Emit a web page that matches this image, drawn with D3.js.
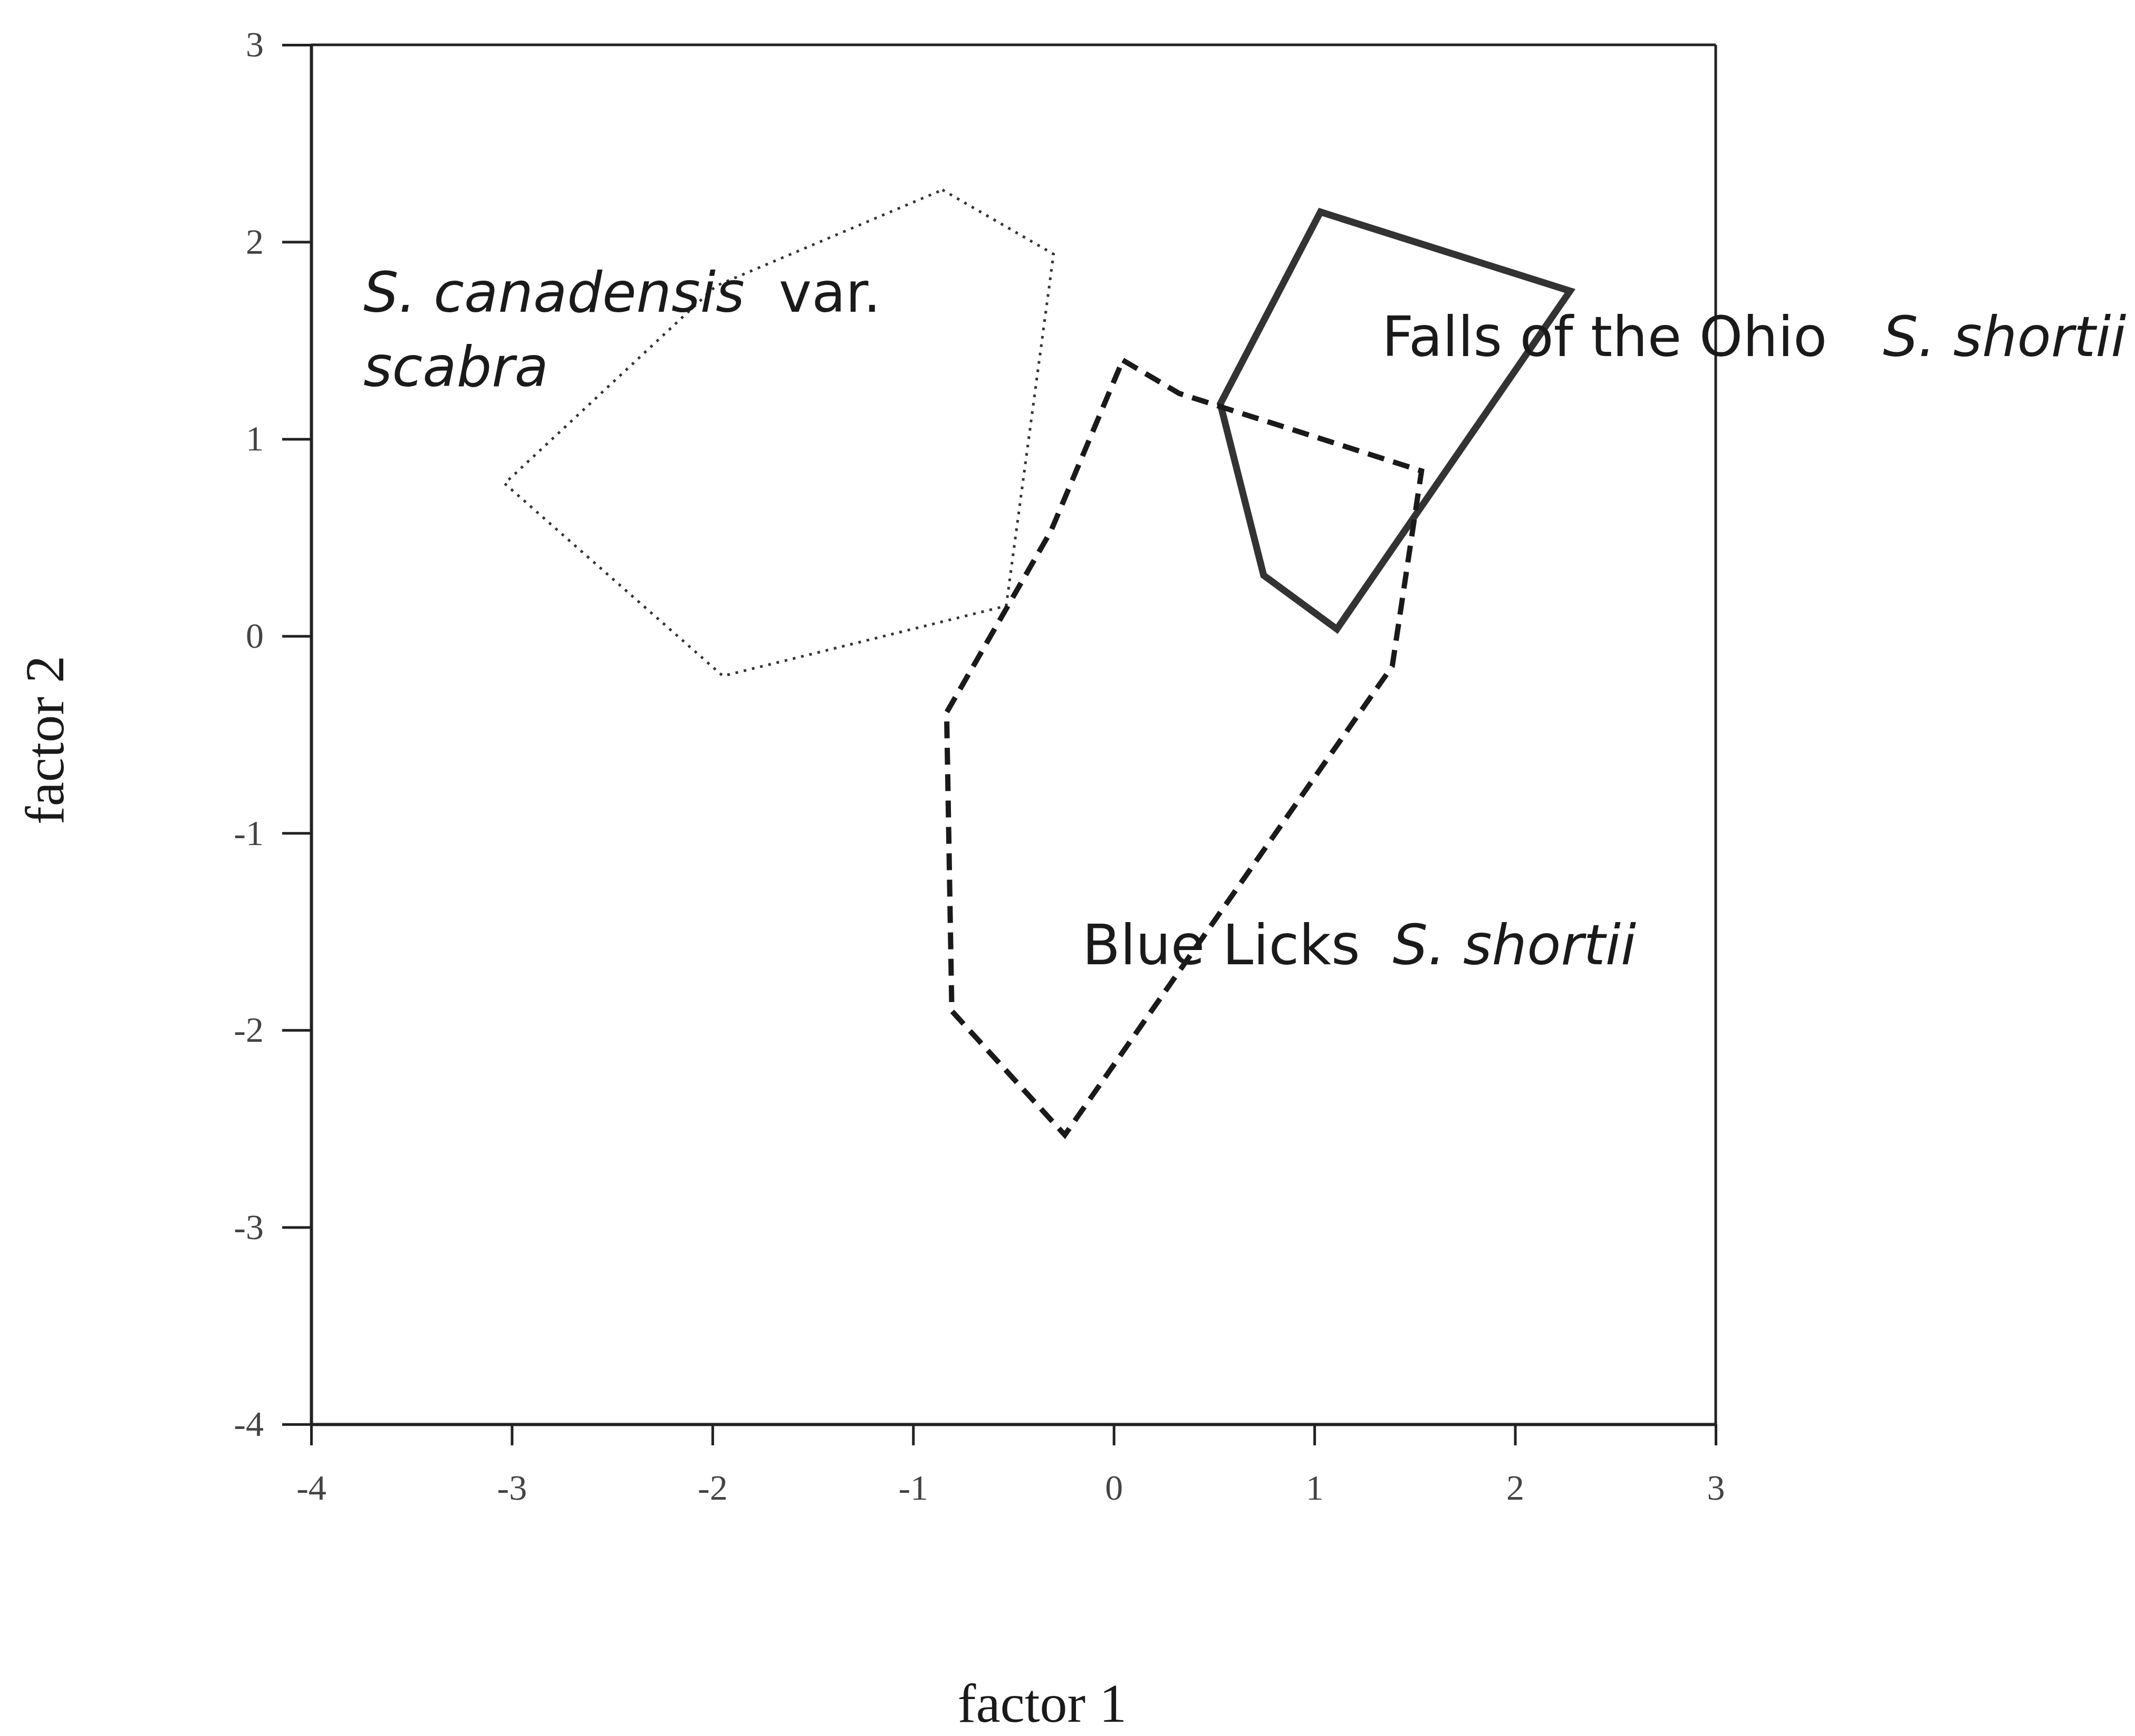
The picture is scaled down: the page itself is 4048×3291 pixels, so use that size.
<html>
<head>
<title>factor 1 vs factor 2</title>
<style>
body {
	margin: 0;
	background: white;
}
svg {
	display: block;
}
.tick text {
	font-family: 'Liberation Serif', 'Times New Roman', serif;
	font-size: 68px;
	fill: #444;
}
.axisTitle {
	font-family: 'Liberation Serif', 'Times New Roman', serif;
	font-size: 104px;
	fill: #1a1a1a;
}
.note {
	font-family: 'DejaVu Sans', sans-serif;
	font-size: 105px;
	fill: #1a1a1a;
}
</style>
</head>
<body>
<svg width="4048" height="3291"></svg>
<script src="https://d3js.org/d3.v7.min.js"></script>
<script>
// tick values on both axes
const xTicks = [-4, -3, -2, -1, 0, 1, 2, 3];
const yTicks = [-4, -3, -2, -1, 0, 1, 2, 3];

// S. canadensis var. scabra (dotted hull)
const canadensisX = [-0.854, -0.30, -0.536, -1.948, -3.036, -1.982];
const canadensisY = [2.264, 1.938, 0.153, -0.203, 0.774, 1.777];

// Falls of the Ohio S. shortii (solid hull)
const fallsX = [1.030, 2.274, 1.112, 0.747, 0.531];
const fallsY = [2.152, 1.751, 0.035, 0.308, 1.178];

// Blue Licks S. shortii (dashed hull)
const blueLicksX = [0.045, 0.326, 1.534, 1.388, -0.244, -0.807, -0.833, -0.313];
const blueLicksY = [1.40, 1.231, 0.838, -0.153, -2.532, -1.903, -0.388, 0.533];

// where the group names sit, in data units
const labelX = [-3.74, -1.669, 1.336, 3.833, -0.157, 1.39];
const labelY = [1.646, 1.269, 1.42, -1.665];

let svg = d3.select("svg");

// plot area
let plotLeft = 590, plotRight = 3253, plotTop = 85, plotBottom = 2700;
let x = d3.scaleLinear().domain([-4, 3]).range([plotLeft, plotRight]);
let y = d3.scaleLinear().domain([-4, 3]).range([plotBottom, plotTop]);

function fmt(d) {
	return d < 0 ? "-" + Math.abs(d) : "" + d;
}

// top and right frame lines
svg.append("line")
	.attr("x1", plotLeft).attr("x2", plotRight)
	.attr("y1", plotTop).attr("y2", plotTop)
	.attr("stroke", "#222").attr("stroke-width", 5);
svg.append("line")
	.attr("x1", plotRight).attr("x2", plotRight)
	.attr("y1", plotTop).attr("y2", plotBottom)
	.attr("stroke", "#222").attr("stroke-width", 5);

// bottom axis
svg.append("g")
	.attr("transform", "translate(0," + plotBottom + ")")
	.call(d3.axisBottom(x).tickValues(xTicks).tickFormat(fmt)
		.tickSize(40).tickSizeOuter(0).tickPadding(55));

// left axis
svg.append("g")
	.attr("transform", "translate(" + plotLeft + ",0)")
	.call(d3.axisLeft(y).tickValues(yTicks).tickFormat(fmt)
		.tickSize(55).tickSizeOuter(0).tickPadding(35));

svg.selectAll(".domain").attr("stroke", "#222").attr("stroke-width", 6);
svg.selectAll(".tick line").attr("stroke", "#222").attr("stroke-width", 5);

// axis titles
svg.append("text")
	.attr("class", "axisTitle")
	.attr("x", 1976).attr("y", 3264)
	.attr("text-anchor", "middle")
	.text("factor 1");
svg.append("text")
	.attr("class", "axisTitle")
	.attr("transform", "translate(120,1403) rotate(-90)")
	.attr("text-anchor", "middle")
	.text("factor 2");

// closed outline from two coordinate arrays
let hull = d3.line()
	.x(d => x(d[0]))
	.y(d => y(d[1]))
	.curve(d3.curveLinearClosed);

function drawHull(xs, ys, color, width, dash) {
	let pts = xs.map((v, i) => [v, ys[i]]);
	svg.append("path")
		.datum(pts)
		.attr("d", hull)
		.attr("fill", "none")
		.attr("stroke", color)
		.attr("stroke-width", width)
		.attr("stroke-linejoin", "miter")
		.attr("stroke-dasharray", dash);
}

drawHull(canadensisX, canadensisY, "#333", 5, "5,11");
drawHull(fallsX, fallsY, "#333", 13, null);
drawHull(blueLicksX, blueLicksY, "#1a1a1a", 10, "32,18");

// group names
let t1 = svg.append("text").attr("class", "note")
	.attr("x", x(labelX[0])).attr("y", y(labelY[0]));
t1.append("tspan").style("font-style", "italic").text("S. canadensis");
t1.append("tspan").attr("x", x(labelX[1])).text("var.");

svg.append("text").attr("class", "note")
	.attr("x", x(labelX[0])).attr("y", y(labelY[1]))
	.style("font-style", "italic")
	.text("scabra");

let t2 = svg.append("text").attr("class", "note")
	.attr("x", x(labelX[2])).attr("y", y(labelY[2]));
t2.append("tspan").text("Falls of the Ohio");
t2.append("tspan").attr("x", x(labelX[3])).style("font-style", "italic").text("S. shortii");

let t3 = svg.append("text").attr("class", "note")
	.attr("x", x(labelX[4])).attr("y", y(labelY[3]));
t3.append("tspan").text("Blue Licks");
t3.append("tspan").attr("x", x(labelX[5])).style("font-style", "italic").text("S. shortii");
</script>
</body>
</html>
